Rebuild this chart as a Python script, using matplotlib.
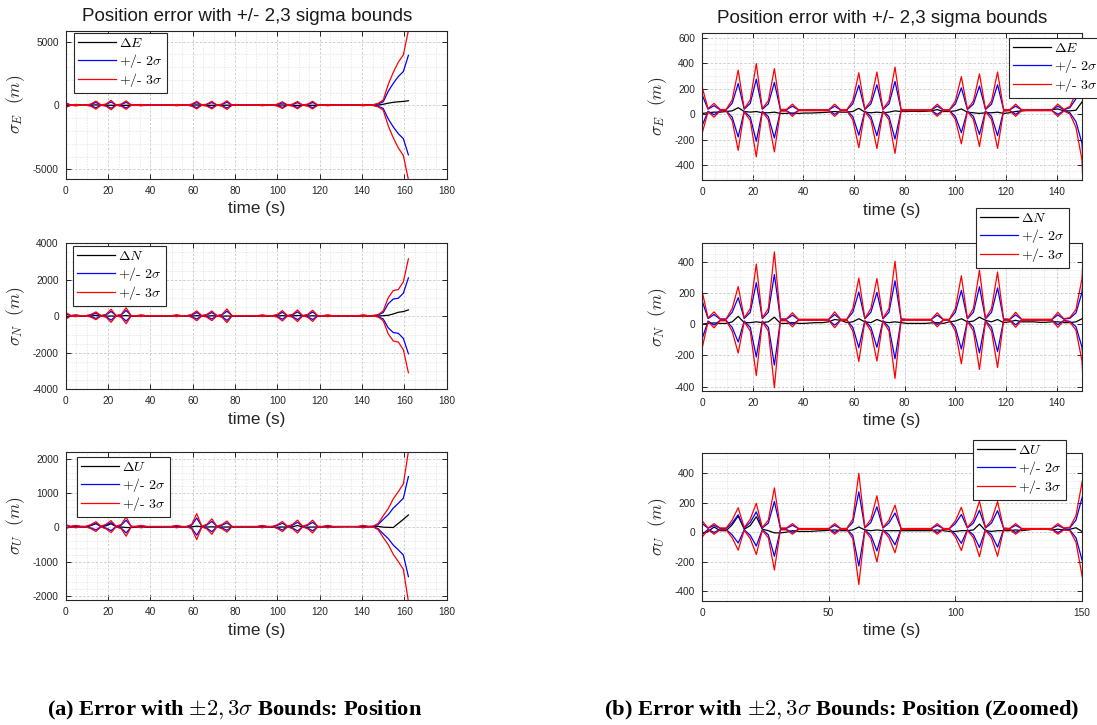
import numpy as np
import matplotlib
matplotlib.use("Agg")
import matplotlib.pyplot as plt
from matplotlib.ticker import MultipleLocator, AutoMinorLocator
from matplotlib.font_manager import FontProperties

plt.rcParams['mathtext.fontset'] = 'cm'
plt.rcParams['axes.unicode_minus'] = False
plt.rcParams['font.family'] = ['Liberation Sans', 'DejaVu Sans']

# ---------------- data ----------------
dt = 150.0 / 63                     # filter sampling interval (s)
t = np.arange(69) * dt              # sample times 0 .. ~162 s

# centre of the bounds (m)
cE = 30.0
cN = 28.0
cU = 22.0

# one-sigma values (m)
sE = [62, 4, 18, 2, 2, 27, 105, 4, 27, 122, 4, 25, 109, 2, 2, 16, 1, 1, 1, 1, 1, 1,
      16, 1, 1, 25, 98, 3, 25, 100, 3, 25, 113, 2, 1, 1, 1, 1, 1, 16, 1, 1, 24, 88,
      3, 24, 95, 3, 24, 100, 2, 1, 16, 1, 1, 1, 1, 1, 1, 16, 2, 10, 45, 130,
      540, 855, 1120, 1315, 1950]
sN = [62, 4, 17, 2, 2, 24, 71, 4, 24, 119, 4, 24, 145, 2, 2, 15, 1, 1, 1, 1, 1, 1,
      17, 1, 1, 24, 89, 3, 24, 88, 3, 24, 125, 2, 1, 1, 1, 1, 1, 15, 1, 1, 24, 94,
      3, 24, 106, 3, 24, 102, 2, 1, 16, 1, 1, 1, 1, 1, 1, 16, 2, 5, 22, 88,
      330, 460, 480, 620, 1040]
sU = [19, 2, 12, 2, 2, 20, 48, 3, 22, 58, 3, 20, 93, 2, 2, 12, 1, 1, 1, 1, 1, 1,
      12, 1, 1, 22, 126, 3, 22, 75, 3, 20, 54, 1, 1, 1, 1, 1, 1, 12, 1, 1, 18, 49,
      3, 20, 63, 3, 20, 62, 2, 1, 12, 1, 1, 1, 1, 1, 1, 12, 2, 4, 30, 105,
      175, 270, 340, 415, 730]

# position errors (m)
dE = [5, 10, 15, 15, 20, 25, 50, 20, 15, 20, 10, 10, 15, 5, 5, 8, 5, 8, 8, 10, 12, 15,
      20, 15, 15, 20, 45, 15, 10, 15, 10, 15, 25, 20, 20, 22, 20, 22, 25, 35, 20, 20,
      25, 40, 15, 10, 5, 10, 10, 15, 5, 10, 20, 25, 30, 30, 30, 35, 35, 40, 25, 25,
      30, 95, 180, 250, 290, 320, 370]
dN = [0, 5, 8, 5, 5, 15, 50, 10, 10, 15, 10, 15, 45, 5, 5, 10, 5, 5, 8, 10, 10, 15,
      30, 25, 10, 15, 35, 15, 10, 30, 15, 10, 15, 10, 5, 5, 5, 5, 8, 10, 5, 15,
      20, 35, 15, 20, 45, 25, 15, 30, 10, 15, 25, 15, 15, 15, 12, 12, 15, 15, 10, 10,
      15, 35, 55, 130, 220, 260, 350]
dU = [-10, 5, 35, 10, 10, 50, 110, 20, 45, 105, 20, 10, -5, -5, 0, 10, 5, 5, 5, 8, 10, 12,
      15, 10, 10, 15, 35, 15, 10, 15, 10, 10, 10, 10, 10, 10, 10, 10, 10, 15, 10, 5,
      5, 10, 10, 15, 55, 10, 5, 10, 10, 10, 15, 10, 15, 20, 20, 20, 15, 20, 15, 20,
      30, 5, 0, -5, 115, 235, 360]

comp = ['E', 'N', 'U']
centres = [cE, cN, cU]
sigmas = [sE, sN, sU]
errors = [dE, dN, dU]

left_ylims = [(-5760, 5860), (-4000, 4000), (-2120, 2190)]
left_ysteps = [5000, 2000, 1000]
right_ylims = [(-518, 639), (-426, 518), (-468, 536)]
right_xsteps = [20, 20, 50]

title_text = 'Position error with +/- 2,3 sigma bounds'

# ---------------- layout ----------------
W, H = 1097, 725
fig = plt.figure(figsize=(W / 100, H / 100), dpi=100)

def rect(x0, y0, x1, y1):
    return [x0 / W, 1 - y1 / H, (x1 - x0) / W, (y1 - y0) / H]

left_rects = [rect(65.7, 30.7, 446.7, 179), rect(65.7, 243.3, 446.7, 389.3),
              rect(65.7, 452.3, 446.7, 600)]
right_rects = [rect(702, 32.7, 1082, 180), rect(702, 243.3, 1082, 390.7),
               rect(702, 453.3, 1082, 601)]
left_leg = [(74, 33), (73, 246), (77, 457)]
right_leg = [(1009, 38), (976, 208), (973, 440)]

legfont = FontProperties(family='cmr10', size=10)
axcol = '#262626'


def style(ax):
    ax.minorticks_on()
    ax.xaxis.set_minor_locator(AutoMinorLocator())
    ax.yaxis.set_minor_locator(AutoMinorLocator())
    ax.grid(True, which='major', color='#c8c8c8', lw=0.6, ls=(0, (3, 2)))
    ax.grid(True, which='minor', color='#e0e0e0', lw=0.5, ls=(0, (2, 2)))
    ax.set_axisbelow(True)
    ax.tick_params(which='major', direction='in', length=3.5, width=0.7,
                   top=True, right=True, labelsize=7.3, colors=axcol, pad=5)
    ax.tick_params(which='minor', length=0, top=True, right=True)
    for sp in ax.spines.values():
        sp.set_color(axcol)
        sp.set_linewidth(0.8)
    ax.set_xlabel('time (s)', fontsize=12.3, color=axcol, labelpad=4)


def draw(ax, i, legpos):
    c = centres[i]
    s = np.asarray(sigmas[i], dtype=float)
    d = errors[i]
    hk, = ax.plot(t, d, color='k', lw=0.9)
    hb, = ax.plot(t, c + 2 * s, color='#0000ff', lw=0.9)
    ax.plot(t, c - 2 * s, color='#0000ff', lw=0.9)
    hr, = ax.plot(t, c + 3 * s, color='#ff0000', lw=0.9)
    ax.plot(t, c - 3 * s, color='#ff0000', lw=0.9)
    ax.set_ylabel(r'$\sigma_%s\ \ (m)$' % comp[i], fontsize=12.5, color=axcol,
                  labelpad=4)
    leg = ax.legend([hk, hb, hr],
                    [r'$\Delta %s$' % comp[i], r'+/- $2\sigma$', r'+/- $3\sigma$'],
                    loc='upper left',
                    bbox_to_anchor=(legpos[0] / W, 1 - legpos[1] / H),
                    bbox_transform=fig.transFigure, prop=legfont,
                    handlelength=2.7, handletextpad=0.25, labelspacing=0.1,
                    borderpad=0.3, borderaxespad=0, fancybox=False,
                    framealpha=1, edgecolor=axcol)
    leg.get_frame().set_linewidth(0.8)
    leg.set_zorder(10)


for i in range(3):
    ax = fig.add_axes(left_rects[i])
    style(ax)
    draw(ax, i, left_leg[i])
    ax.set_xlim(0, 180)
    ax.set_ylim(*left_ylims[i])
    ax.xaxis.set_major_locator(MultipleLocator(20))
    ax.yaxis.set_major_locator(MultipleLocator(left_ysteps[i]))
    ax.yaxis.set_minor_locator(AutoMinorLocator())
    if i == 0:
        ax.set_title(title_text, fontsize=13.5, color='#1a1a1a', pad=7, x=0.475)

for i in range(3):
    ax = fig.add_axes(right_rects[i])
    style(ax)
    draw(ax, i, right_leg[i])
    ax.set_xlim(0, 150)
    ax.set_ylim(*right_ylims[i])
    ax.xaxis.set_major_locator(MultipleLocator(right_xsteps[i]))
    ax.yaxis.set_major_locator(MultipleLocator(200))
    ax.yaxis.set_minor_locator(AutoMinorLocator())
    if i == 0:
        ax.set_title(title_text, fontsize=13.5, color='#1a1a1a', pad=7, x=0.475)

capfont = dict(family='Liberation Serif', weight='bold', fontsize=16.2, color='black')
fig.text(47 / W, 1 - 710 / H, r'(a) Error with $\pm 2, 3\sigma$ Bounds: Position',
         ha='left', va='center', **capfont)
fig.text(604 / W, 1 - 710 / H,
         r'(b) Error with $\pm 2, 3\sigma$ Bounds: Position (Zoomed)',
         ha='left', va='center', **capfont)

fig.savefig('out.png', dpi=100)
